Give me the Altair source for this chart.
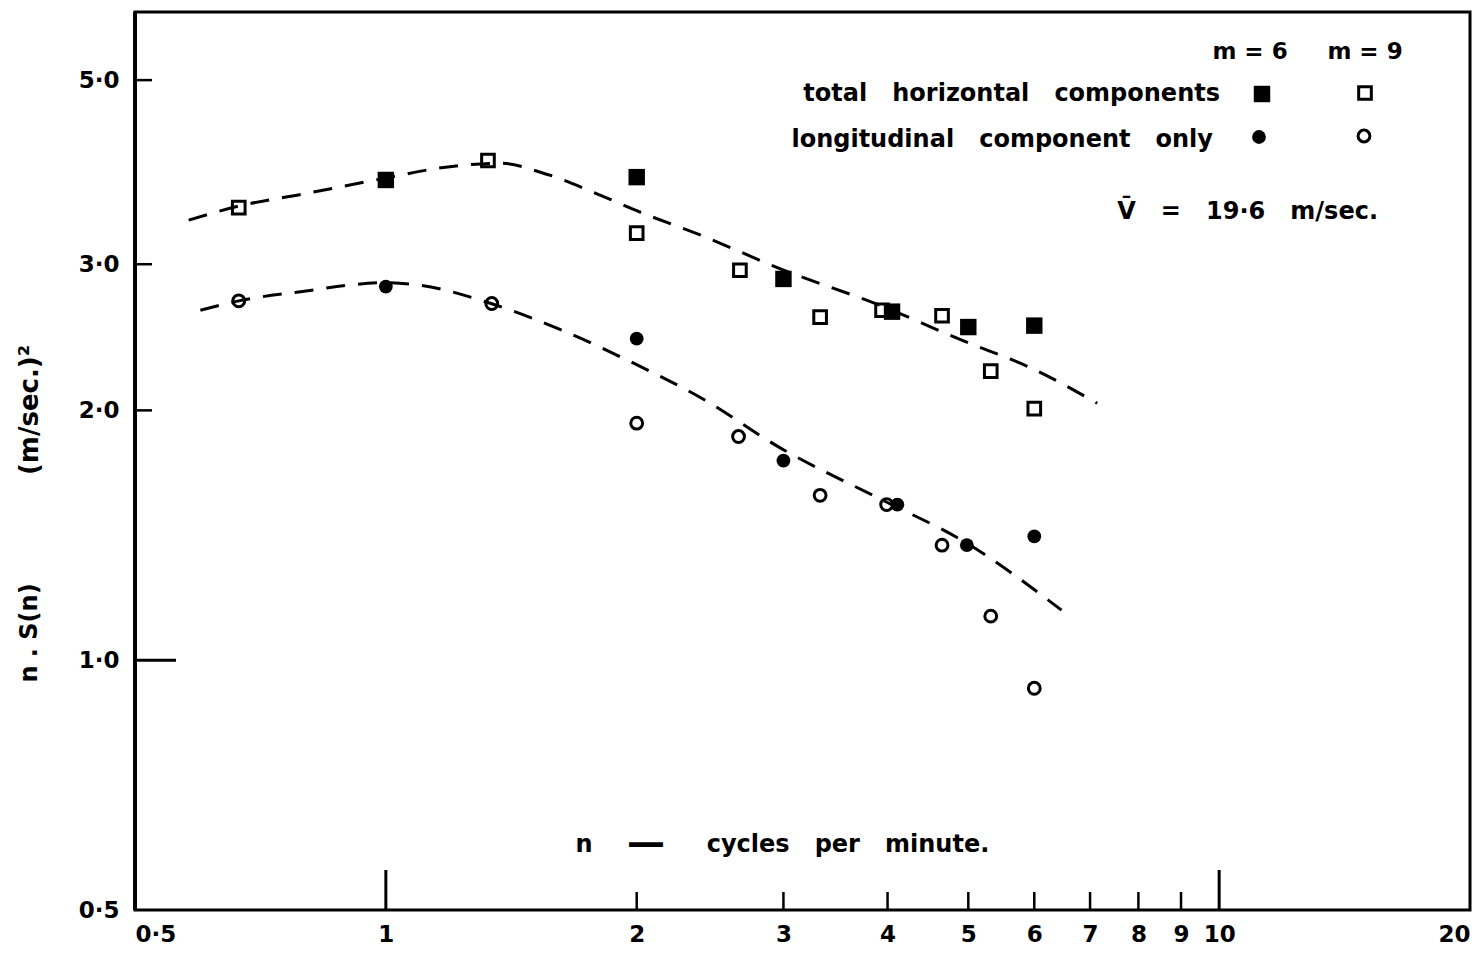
import altair as alt
import pandas as pd

# ---- data ----
n_m6_total = [1.0, 2.0, 3.0, 4.05, 5.0, 6.0]
s_m6_total = [3.79, 3.82, 2.88, 2.63, 2.52, 2.53]

n_m9_total = [0.666, 1.326, 2.0, 2.66, 3.32, 3.94, 4.65, 5.32, 6.0]
s_m9_total = [3.51, 4.00, 3.27, 2.95, 2.59, 2.64, 2.60, 2.23, 2.01]

n_m6_long = [1.0, 2.0, 3.0, 4.11, 4.98, 6.0]
s_m6_long = [2.82, 2.44, 1.74, 1.54, 1.376, 1.41]

n_m9_long = [0.666, 1.34, 2.0, 2.65, 3.32, 3.99, 4.65, 5.32, 6.0]
s_m9_long = [2.71, 2.69, 1.93, 1.86, 1.58, 1.54, 1.376, 1.13, 0.925]

curve_upper_n = [0.58, 0.67, 0.79, 1.0, 1.165, 1.375, 1.536, 1.813, 2.0, 2.39, 2.98, 3.94, 4.91, 6.0, 7.14]
curve_upper_s = [3.39, 3.53, 3.64, 3.81, 3.92, 3.97, 3.87, 3.63, 3.48, 3.25, 2.96, 2.67, 2.43, 2.24, 2.04]
curve_lower_n = [0.599, 0.666, 0.79, 1.0, 1.10, 1.337, 1.623, 2.0, 2.39, 2.98, 3.94, 4.91, 6.47]
curve_lower_s = [2.64, 2.71, 2.78, 2.85, 2.83, 2.69, 2.50, 2.27, 2.07, 1.80, 1.56, 1.395, 1.149]

x_tick_labels = [0.5, 1, 2, 3, 4, 5, 6, 7, 8, 9, 10, 20]
y_tick_labels = [0.5, 1.0, 2.0, 3.0, 5.0]
x_major_ticks = [1, 10]
x_minor_ticks = [2, 3, 4, 5, 6, 7, 8, 9]
y_major_ticks = [1.0]
y_minor_ticks = [2.0, 3.0, 5.0]

FONT = "DejaVu Sans"
W, H = 1335, 898
NB = "\u00a0"


def sp(k):
    return NB * k


xs = alt.Scale(type="log", domain=[0.5, 20], nice=False)
ys = alt.Scale(type="log", domain=[0.5, 6.04], nice=False)

x_axis = alt.Axis(values=x_tick_labels, ticks=False, domain=False, grid=False,
                  labelFont=FONT, labelFontSize=23, labelFontWeight="bold",
                  labelColor="black", labelPadding=13, labelOverlap=False,
                  labelFlush=True,
                  labelExpr="datum.value == 0.5 ? '0·5' : format(datum.value, 'd')",
                  title=None)
y_axis = alt.Axis(values=y_tick_labels, ticks=False, domain=False, grid=False,
                  labelFont=FONT, labelFontSize=23, labelFontWeight="bold",
                  labelColor="black", labelPadding=16, labelOverlap=False,
                  labelExpr="replace(format(datum.value, '.1f'), '.', '·')",
                  title=None)


def pts(ns, ss):
    return pd.DataFrame({"n": ns, "s": ss})


curves = pd.concat([
    pd.DataFrame({"n": curve_upper_n, "s": curve_upper_s, "c": "upper"}),
    pd.DataFrame({"n": curve_lower_n, "s": curve_lower_s, "c": "lower"}),
])

lines = alt.Chart(curves).mark_line(
    color="black", strokeWidth=3, strokeDash=[19, 13], interpolate="monotone"
).encode(
    x=alt.X("n:Q", scale=xs, axis=x_axis),
    y=alt.Y("s:Q", scale=ys, axis=y_axis),
    detail="c:N",
)

enc = dict(x=alt.X("n:Q", scale=xs), y=alt.Y("s:Q", scale=ys))

SQ_F = dict(shape="square", filled=True, color="black", size=270, opacity=1)
SQ_O = dict(shape="square", filled=False, color="black", size=160, strokeWidth=3, opacity=1)
CI_F = dict(shape="circle", filled=True, color="black", size=190, opacity=1)
CI_O = dict(shape="circle", filled=False, color="black", size=140, strokeWidth=3, opacity=1)

p_m6_total = alt.Chart(pts(n_m6_total, s_m6_total)).mark_point(**SQ_F).encode(**enc)
p_m9_total = alt.Chart(pts(n_m9_total, s_m9_total)).mark_point(**SQ_O).encode(**enc)
p_m6_long = alt.Chart(pts(n_m6_long, s_m6_long)).mark_point(**CI_F).encode(**enc)
p_m9_long = alt.Chart(pts(n_m9_long, s_m9_long)).mark_point(**CI_O).encode(**enc)

# axis ticks pointing inwards
xt_major = alt.Chart(pd.DataFrame({"n": x_major_ticks})).mark_rule(
    color="black", strokeWidth=3).encode(
    x=alt.X("n:Q", scale=xs), y=alt.value(H), y2=alt.value(H - 40))
xt_minor = alt.Chart(pd.DataFrame({"n": x_minor_ticks})).mark_rule(
    color="black", strokeWidth=2.5).encode(
    x=alt.X("n:Q", scale=xs), y=alt.value(H), y2=alt.value(H - 18))
yt_major = alt.Chart(pd.DataFrame({"s": y_major_ticks})).mark_rule(
    color="black", strokeWidth=3).encode(
    y=alt.Y("s:Q", scale=ys), x=alt.value(0), x2=alt.value(41))
yt_minor = alt.Chart(pd.DataFrame({"s": y_minor_ticks})).mark_rule(
    color="black", strokeWidth=2.5).encode(
    y=alt.Y("s:Q", scale=ys), x=alt.value(0), x2=alt.value(17))

# slightly heavier left frame line, as in the reference
left_edge = alt.Chart(alt.Data(values=[{}])).mark_rule(
    color="black", strokeWidth=4).encode(
    x=alt.value(0), y=alt.value(0), y2=alt.value(H))


def label(text, x, y, align="center", size=23, angle=0):
    kw = dict(text=text, font=FONT, fontSize=size, fontWeight="bold",
              color="black", align=align, baseline="middle")
    if angle:
        kw["angle"] = angle
    return alt.Chart(alt.Data(values=[{}])).mark_text(**kw).encode(
        x=alt.value(x), y=alt.value(y))


def sym(style, x, y):
    return alt.Chart(alt.Data(values=[{}])).mark_point(**style).encode(
        x=alt.value(x), y=alt.value(y))


legend_syms = [
    sym(SQ_F, 1127, 82),
    sym(SQ_O, 1230, 81),
    sym(CI_F, 1124, 125),
    sym(CI_O, 1229, 124),
]

texts = [
    label("m" + sp(1) + "=" + sp(1) + "6", 1115, 40),
    label("m" + sp(1) + "=" + sp(1) + "9", 1230, 40),
    label("total" + sp(3) + "horizontal" + sp(3) + "components", 1085, 82, align="right", size=24),
    label("longitudinal" + sp(3) + "component" + sp(3) + "only", 1078, 128, align="right", size=24),
    label("V̄" + sp(3) + "=" + sp(3) + "19·6" + sp(3) + "m/sec.", 1243, 200, align="right", size=24),
    label("n", 449, 833, size=24),
    label("—", 511, 832, size=38),
    label("cycles" + sp(3) + "per" + sp(3) + "minute.", 713, 833, size=24),
    label("(m/sec.)²", -105, 398, angle=270, size=26),
    label("n" + sp(1) + "." + sp(1) + "S(n)", -105, 621, angle=270, size=24),
]

chart = alt.layer(
    lines, p_m9_total, p_m6_total, p_m9_long, p_m6_long,
    xt_major, xt_minor, yt_major, yt_minor, left_edge,
    *legend_syms,
    *texts,
).properties(
    width=W, height=H,
    autosize=alt.AutoSizeParams(type="none"),
    padding={"left": 127, "top": 4, "right": 2, "bottom": 37},
    background="white",
).configure_view(stroke="black", strokeWidth=3)

chart.save("out.html", embed_options={"renderer": "svg", "actions": False})
